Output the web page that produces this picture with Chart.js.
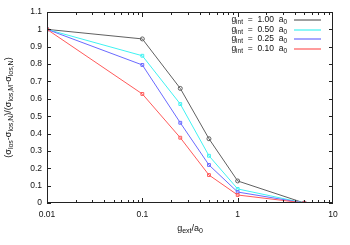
<!DOCTYPE html>
<html>
<head>
<meta charset="utf-8">
<script src="https://cdn.jsdelivr.net/npm/chart.js@4/dist/chart.umd.min.js"></script>
<style>
  html, body { margin: 0; padding: 0; background: #fff; }
  #wrap { width: 350px; height: 245px; }
</style>
</head>
<body>
<div id="wrap"><canvas id="c" width="350" height="245"></canvas></div>
<script>
// g_ext / a0 sample positions
const gExt = [0.01, 0.1, 0.25, 0.5, 1, 5];

// normalised dispersion for each g_int
const gInt100 = [1.0, 0.945, 0.66, 0.37, 0.127, 0.0];
const gInt050 = [1.0, 0.848, 0.57, 0.272, 0.081, 0.0];
const gInt025 = [1.0, 0.795, 0.462, 0.219, 0.063, 0.0];
const gInt010 = [1.0, 0.628, 0.376, 0.161, 0.046, 0.0];

const seriesNames = ['1.00', '0.50', '0.25', '0.10'];
const xTickLabels = [0.01, 0.1, 1, 10];

const FONT = '"Liberation Sans", Arial, sans-serif';
const colors = ['#606060', '#40f2f2', '#6a6aff', '#ff5a5a'];
const styles = ['circle', 'rect', 'rect', 'rect'];
const allSeries = [gInt100, gInt050, gInt025, gInt010];

const datasets = allSeries.map((vals, i) => ({
  label: 'g_int = ' + seriesNames[i] + ' a_0',
  data: gExt.map((x, j) => ({ x: x, y: vals[j] })),
  borderColor: colors[i],
  backgroundColor: 'rgba(255,255,255,0)',
  borderWidth: 1,
  pointStyle: styles[i],
  pointRadius: 2,
  pointBorderWidth: 1,
  tension: 0,
  order: 4 - i
}));

// draw text made of normal and subscript pieces
function drawRich(ctx, segs, x, y, align, big, small) {
  const bf = big + 'px ' + FONT, sf = small + 'px ' + FONT;
  let w = 0;
  segs.forEach(s => { ctx.font = s[1] ? sf : bf; w += ctx.measureText(s[0]).width; });
  let cx = align === 'right' ? x - w : align === 'center' ? x - w / 2 : x;
  ctx.textAlign = 'left';
  ctx.textBaseline = 'alphabetic';
  segs.forEach(s => {
    ctx.font = s[1] ? sf : bf;
    ctx.fillText(s[0], cx, y + (s[1] ? 2 : 0));
    cx += ctx.measureText(s[0]).width;
  });
}

const decor = {
  id: 'decor',
  afterDraw(chart) {
    const ctx = chart.ctx;
    const a = chart.chartArea;
    const xs = chart.scales.x, ys = chart.scales.y;
    ctx.save();
    ctx.strokeStyle = '#222';
    ctx.lineWidth = 1;
    // frame
    ctx.strokeRect(Math.round(a.left) + 0.5, Math.round(a.top) + 0.5,
      Math.round(a.right - a.left) - 1, Math.round(a.bottom - a.top) - 1);
    // y ticks, both sides
    ctx.beginPath();
    for (let k = 0; k <= 11; k++) {
      const py = Math.round(ys.getPixelForValue(k / 10)) + 0.5;
      ctx.moveTo(a.left, py); ctx.lineTo(a.left + 4, py);
      ctx.moveTo(a.right, py); ctx.lineTo(a.right - 4, py);
    }
    // x ticks, major and minor, top and bottom
    for (let d = 0.01; d < 10; d *= 10) {
      for (let m = 1; m <= 9; m++) {
        const px = Math.round(xs.getPixelForValue(d * m)) + 0.5;
        const len = m === 1 ? 5 : 3;
        ctx.moveTo(px, a.bottom); ctx.lineTo(px, a.bottom - len);
        ctx.moveTo(px, a.top); ctx.lineTo(px, a.top + len);
      }
    }
    ctx.stroke();

    ctx.fillStyle = '#111';
    // x axis title
    drawRich(ctx, [['g', 0], ['ext', 1], ['/a', 0], ['0', 1]], (a.left + a.right) / 2, 231, 'center', 9, 7);
    // y axis title
    ctx.save();
    ctx.translate(11, (a.top + a.bottom) / 2);
    ctx.rotate(-Math.PI / 2);
    drawRich(ctx, [['(σ', 0], ['los', 1], ['-σ', 0], ['los,N', 1], [')/(σ', 0],
      ['los,M', 1], ['-σ', 0], ['los,N', 1], [')', 0]], 0, 0, 'center', 9, 7);
    ctx.restore();

    // key
    seriesNames.forEach((n, i) => {
      const yy = 20 + i * 9.7;
      ctx.fillStyle = '#111';
      drawRich(ctx, [['g', 0], ['int', 1], ['  =  ' + n + '  a', 0], ['0', 1]], 287, yy + 2, 'right', 8.5, 6.5);
      ctx.lineWidth = 1.2;
      ctx.strokeStyle = colors[i];
      ctx.beginPath();
      ctx.moveTo(294, Math.round(yy));
      ctx.lineTo(321, Math.round(yy));
      ctx.stroke();
    });
    ctx.restore();
  }
};

new Chart(document.getElementById('c'), {
  type: 'line',
  data: { datasets: datasets },
  options: {
    responsive: false,
    animation: false,
    layout: { padding: { left: 0, right: 17, top: 12, bottom: 0 } },
    plugins: { legend: { display: false }, tooltip: { enabled: false } },
    scales: {
      x: {
        type: 'logarithmic',
        min: 0.01,
        max: 10,
        grid: { display: false, drawTicks: false },
        border: { display: false },
        afterFit: s => { s.height = 42; },
        afterBuildTicks: s => { s.ticks = xTickLabels.map(v => ({ value: v })); },
        ticks: {
          padding: 7,
          autoSkip: false,
          maxRotation: 0,
          color: '#111',
          font: { family: FONT, size: 8.5 },
          callback: v => String(v)
        }
      },
      y: {
        min: 0,
        max: 1.1,
        grid: { display: false, drawTicks: false },
        border: { display: false },
        afterFit: s => { s.width = 47; },
        ticks: {
          stepSize: 0.1,
          padding: 5,
          color: '#111',
          font: { family: FONT, size: 8.5 },
          callback: v => String(Math.round(v * 10) / 10)
        }
      }
    }
  },
  plugins: [decor]
});
</script>
</body>
</html>
